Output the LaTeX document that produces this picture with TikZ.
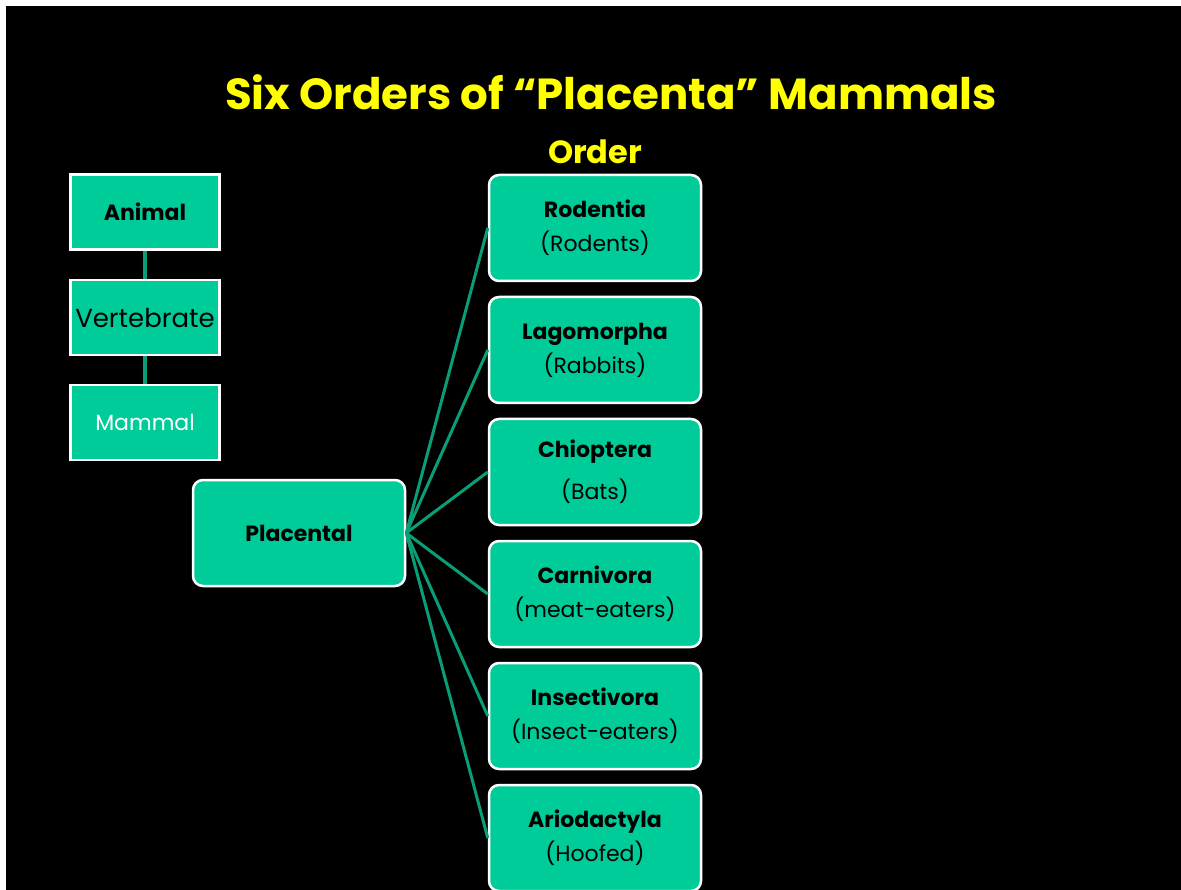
\documentclass[tikz,border=0pt]{standalone}
\usepackage{fontspec}
\setmainfont{Poppins}
\usepackage{tikz}
\definecolor{boxgreen}{HTML}{00CC99}
\definecolor{linkgreen}{HTML}{0A9E78}
\definecolor{titleyellow}{HTML}{FFFF00}

\begin{document}
\begin{tikzpicture}[x=1pt,y=-1pt,
  taxon/.style={draw=white,line width=2.5pt,fill=boxgreen,inner sep=0pt,
    minimum width=149pt,minimum height=75pt,align=center,
    font=\fontsize{22}{34}\selectfont},
  order/.style={taxon,rounded corners=10pt,minimum width=212pt,minimum height=106pt},
  link/.style={linkgreen,line width=3pt}]
\useasboundingbox (0,0) rectangle (1181,890);
\fill[white] (0,0) rectangle (1181,890);
\fill[black] (6,6) rectangle (1181,890);

\node[titleyellow,font=\fontsize{43.5}{50}\selectfont\bfseries] (title) at (611,92) {Six Orders of “Placenta” Mammals};
\node[titleyellow,font=\fontsize{32}{38}\selectfont\bfseries] (ordlabel) at (595,152) {Order};

% kingdom -> class
\node[taxon] (animal) at (145,212) {\textbf{Animal}};
\node[taxon,font=\fontsize{26}{30}\selectfont] (vert) at (145,317.5) {Vertebrate};
\node[taxon,text=white] (mammal) at (145,422.5) {Mammal};
\draw[linkgreen,line width=4pt] (animal) -- (vert);
\draw[linkgreen,line width=4pt] (vert) -- (mammal);

\node[order] (plac) at (299,533) {\textbf{Placental}};

% the six orders
\foreach \nm/\y/\main/\sub/\gap in {rod/228/Rodentia/Rodents/0,
    lag/350/Lagomorpha/Rabbits/0, chi/472/Chioptera/Bats/8,
    car/594/Carnivora/meat-eaters/0, ins/716/Insectivora/Insect-eaters/0,
    ari/838/Ariodactyla/Hoofed/0}{
  \node[order] (\nm) at (595,\y) {\textbf{\main}\\[\gap pt](\sub)};
  \draw[link] (plac.east) -- (\nm.west);
}
\end{tikzpicture}
\end{document}
